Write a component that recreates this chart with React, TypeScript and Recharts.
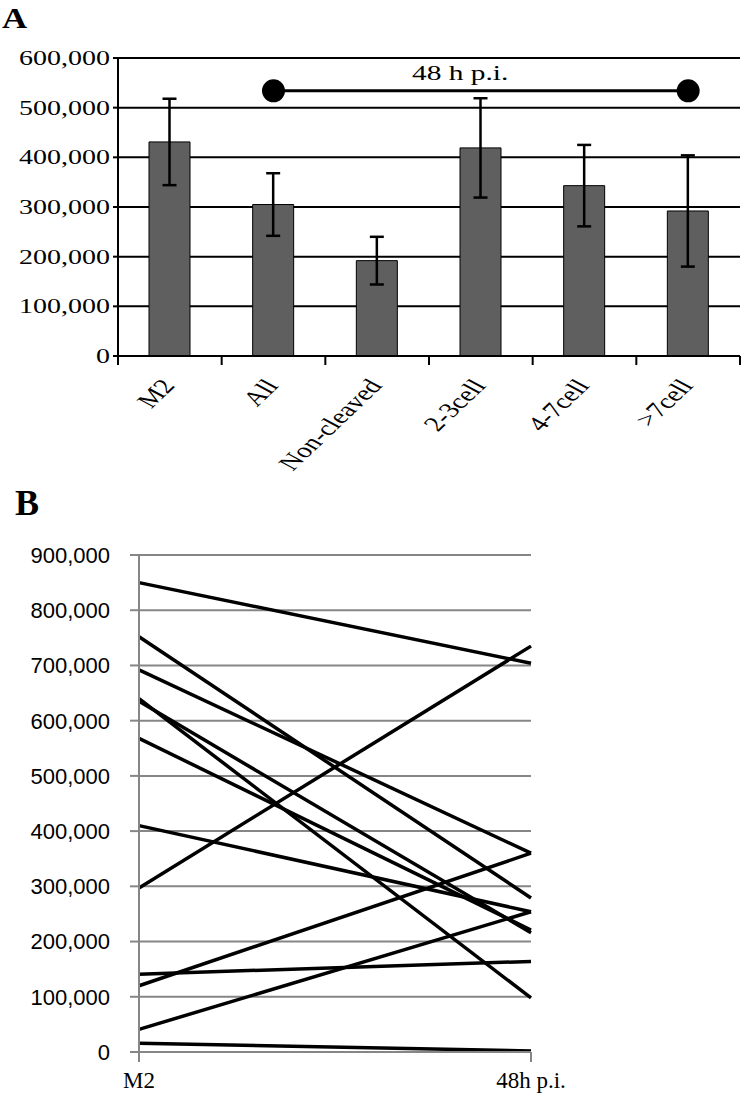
import React from 'react';
import {
  BarChart,
  Bar,
  XAxis,
  YAxis,
  CartesianGrid,
  ErrorBar,
  ReferenceLine,
  ReferenceDot,
  LineChart,
  Line,
} from 'recharts';

// Panel A: mean per group with error bars
const groups = ['M2', 'All', 'Non-cleaved', '2-3cell', '4-7cell', '>7cell'];
const means = [431000, 305000, 192000, 419000, 343000, 292000];
const errors = [87000, 63000, 48000, 100000, 82000, 112000];
const barTicks = [0, 100000, 200000, 300000, 400000, 500000, 600000];
const bracketFrom = 'All';
const bracketTo = '>7cell';
const bracketValue = 534000;
const bracketText = '48 h p.i.';

// Panel B: paired values per sample, M2 vs 48h p.i.
const timepoints = ['M2', '48h p.i.'];
const atM2 = [850000, 752000, 692000, 640000, 635000, 568000, 410000, 297000, 141000, 120000, 41000, 16000];
const at48h = [704000, 279000, 360000, 98000, 216000, 221000, 254000, 735000, 164000, 360000, 254000, 2000];
const lineTicks = [0, 100000, 200000, 300000, 400000, 500000, 600000, 700000, 800000, 900000];

const barData = groups.map((g, i) => ({ group: g, mean: means[i], err: errors[i] }));
const lineData = timepoints.map((t, ti) => {
  const row: Record<string, number | string> = { time: t };
  atM2.forEach((v, i) => {
    row[`s${i}`] = ti === 0 ? v : at48h[i];
  });
  return row;
});

const SERIF = '"Liberation Serif", "Times New Roman", serif';
const SANS = '"Liberation Sans", Arial, sans-serif';
const STRETCH = 1.4;
const fmt = (v: number) => v.toLocaleString('en-US');

// layout of panel A plot area
const A_LEFT = 118;
const A_RIGHT = 740;
const A_BAND = (A_RIGHT - A_LEFT) / groups.length;

function StretchedYTick({ x, y, payload }: any) {
  return (
    <g transform={`translate(${x},${y}) scale(${STRETCH},1)`}>
      <text textAnchor="end" dy="0.35em" fontSize={20} fontFamily={SERIF} fill="#000">
        {fmt(payload.value)}
      </text>
    </g>
  );
}

function GroupTick({ x, y, payload, index }: any) {
  const left = x - A_BAND / 2;
  const right = x + A_BAND / 2;
  return (
    <g>
      <line x1={left} x2={left} y1={y} y2={y + 9} stroke="#000" strokeWidth={2} />
      {index === groups.length - 1 && (
        <line x1={right} x2={right} y1={y} y2={y + 9} stroke="#000" strokeWidth={2} />
      )}
      <g transform={`translate(${x + 6},${y + 30}) scale(${STRETCH},1) rotate(-53)`}>
        <text textAnchor="end" fontSize={21} fontFamily={SERIF} fill="#000">
          {payload.value}
        </text>
      </g>
    </g>
  );
}

function BracketLabel(props: any) {
  const vb = props.viewBox || {};
  const cx = vb.x + vb.width * 0.45;
  return (
    <g transform={`translate(${cx},${vb.y - 11}) scale(${STRETCH},1)`}>
      <text textAnchor="middle" fontSize={21} fontFamily={SERIF} fill="#000">
        {bracketText}
      </text>
    </g>
  );
}

function SampleYTick({ x, y, payload }: any) {
  return (
    <text x={x} y={y} dy="0.36em" textAnchor="end" fontSize={22} fontFamily={SANS} fill="#000">
      {fmt(payload.value)}
    </text>
  );
}

function TimeTick({ x, y, payload }: any) {
  return (
    <text x={x} y={y} dy="0.75em" textAnchor="middle" fontSize={23} fontFamily={SERIF} fill="#000">
      {payload.value}
    </text>
  );
}

export default function App() {
  return (
    <div
      style={{
        position: 'absolute',
        left: 0,
        top: 0,
        width: 750,
        height: 1105,
        background: '#fff',
        overflow: 'hidden',
      }}
    >
      <div
        style={{
          position: 'absolute',
          left: 2,
          top: 4,
          fontFamily: SERIF,
          fontWeight: 'bold',
          fontSize: 29,
          lineHeight: 1,
          transform: 'scaleX(1.2)',
          transformOrigin: 'left top',
        }}
      >
        A
      </div>
      <div
        style={{
          position: 'absolute',
          left: 15,
          top: 485,
          fontFamily: SERIF,
          fontWeight: 'bold',
          fontSize: 36,
          lineHeight: 1,
        }}
      >
        B
      </div>

      <div style={{ position: 'absolute', left: 0, top: 0 }}>
        <BarChart
          width={750}
          height={500}
          data={barData}
          margin={{ top: 58, right: 750 - A_RIGHT, left: 0, bottom: 24 }}
        >
          <CartesianGrid vertical={false} stroke="#000" strokeWidth={2} />
          <XAxis
            dataKey="group"
            height={120}
            interval={0}
            tickSize={0}
            tickMargin={0}
            tickLine={false}
            axisLine={{ stroke: '#000', strokeWidth: 2 }}
            tick={<GroupTick />}
          />
          <YAxis
            width={A_LEFT}
            domain={[0, 600000]}
            ticks={barTicks}
            interval={0}
            tickSize={5}
            tickMargin={3}
            axisLine={{ stroke: '#000', strokeWidth: 2 }}
            tickLine={{ stroke: '#000', strokeWidth: 2 }}
            tick={<StretchedYTick />}
          />
          <Bar dataKey="mean" barSize={41} fill="#5f5f5f" stroke="#000" strokeWidth={1} isAnimationActive={false}>
            <ErrorBar dataKey="err" direction="y" width={7} stroke="#000" strokeWidth={2.5} />
          </Bar>
          <ReferenceLine
            segment={[
              { x: bracketFrom, y: bracketValue },
              { x: bracketTo, y: bracketValue },
            ]}
            stroke="#000"
            strokeWidth={3}
            label={<BracketLabel />}
          />
          <ReferenceDot x={bracketFrom} y={bracketValue} r={11.5} fill="#000" stroke="none" />
          <ReferenceDot x={bracketTo} y={bracketValue} r={11.5} fill="#000" stroke="none" />
        </BarChart>
      </div>

      <div style={{ position: 'absolute', left: 0, top: 470 }}>
        <LineChart
          width={750}
          height={635}
          data={lineData}
          margin={{ top: 85, right: 219, left: 0, bottom: 8 }}
        >
          <CartesianGrid vertical={false} stroke="#868686" strokeWidth={2} />
          <XAxis
            dataKey="time"
            height={45}
            interval={0}
            tickSize={10}
            tickMargin={9}
            axisLine={{ stroke: '#868686', strokeWidth: 2 }}
            tickLine={{ stroke: '#868686', strokeWidth: 2 }}
            tick={<TimeTick />}
          />
          <YAxis
            width={139}
            domain={[0, 900000]}
            ticks={lineTicks}
            interval={0}
            tickSize={9}
            tickMargin={20}
            axisLine={{ stroke: '#868686', strokeWidth: 2 }}
            tickLine={{ stroke: '#868686', strokeWidth: 2 }}
            tick={<SampleYTick />}
          />
          {atM2.map((_, i) => (
            <Line
              key={i}
              type="linear"
              dataKey={`s${i}`}
              stroke="#000"
              strokeWidth={3.5}
              dot={false}
              isAnimationActive={false}
            />
          ))}
        </LineChart>
      </div>
    </div>
  );
}
